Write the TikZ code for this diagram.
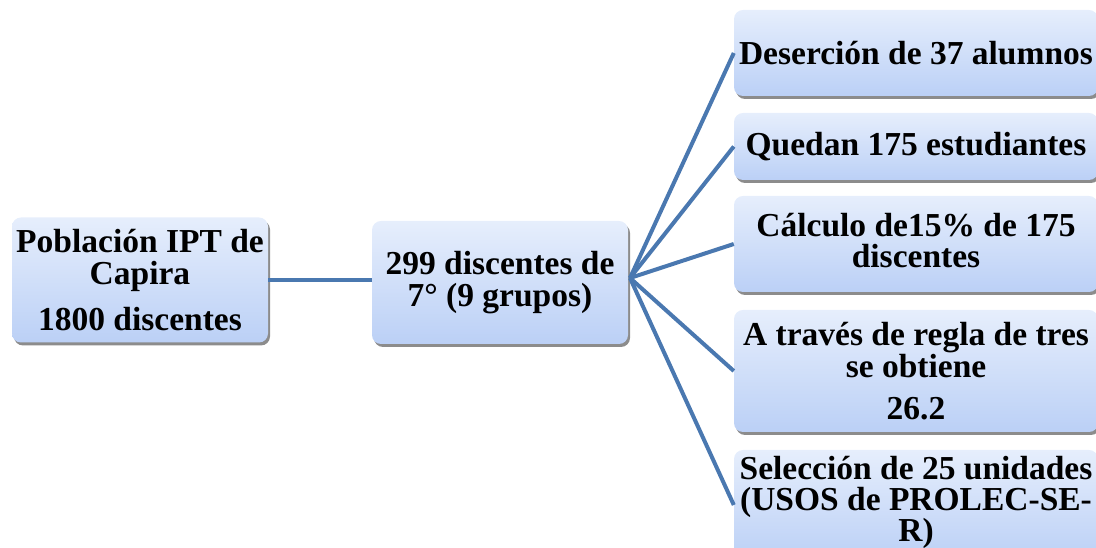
\documentclass[tikz,border=0pt]{standalone}
\usepackage{fontspec}
\setmainfont{Liberation Serif}
\usetikzlibrary{shadows}
\definecolor{linec}{HTML}{4A78B0}
\definecolor{boxtop}{HTML}{E6EEFC}
\definecolor{boxbot}{HTML}{BBD0F6}
\tikzset{
  box/.style={rectangle, rounded corners=9pt, top color=boxtop, bottom color=boxbot, draw=none,
    drop shadow={shadow xshift=2pt, shadow yshift=-3pt, fill=black!45, opacity=1},
    inner sep=0pt, align=center, font=\bfseries\fontsize{33.5}{32}\selectfont},
  conn/.style={draw=linec, line width=4pt},
  txt/.style={align=center, inner sep=0pt, font=\bfseries\fontsize{33.5}{31}\selectfont},
}
\begin{document}
\begin{tikzpicture}[x=1pt,y=1pt]
\useasboundingbox (0,0) rectangle (1096,548);
\clip (0,0) rectangle (1096,548);
\node[box, minimum width=256pt, minimum height=125pt] (pop) at (140,268) {Población IPT de\\Capira\\[14pt]1800 discentes};
\node[box, minimum width=256pt, minimum height=123pt] (mid) at (500,265.5) {299 discentes de\\7° (9 grupos)};
\node[box, minimum width=364pt, minimum height=86pt] (r1) at (916,495) {Deserción de 37 alumnos};
\node[box, minimum width=364pt, minimum height=67pt] (r2) at (916,401.5) {Quedan 175 estudiantes};
\node[box, minimum width=364pt, minimum height=96pt] (r3) at (916,304) {};
\node[txt] (r3t) at (916,307) {Cálculo de15\% de 175\\discentes};
\node[box, minimum width=364pt, minimum height=122pt] (r4) at (916,177) {A través de regla de tres\\se obtiene\\[10pt]26.2};
\node[box, minimum width=364pt, minimum height=110pt] (r5) at (916,43) {};
\node[txt, anchor=north] (r5t) at (916,92) {Selección de 25 unidades\\(USOS de PROLEC-SE-\\R)};
\draw[conn] (pop.east) -- (pop.east -| mid.west);
\coordinate (hub) at (630,270);
\foreach \n in {r1,r2,r3,r4,r5} \draw[conn] (hub) -- (\n.west);
\end{tikzpicture}
\end{document}
